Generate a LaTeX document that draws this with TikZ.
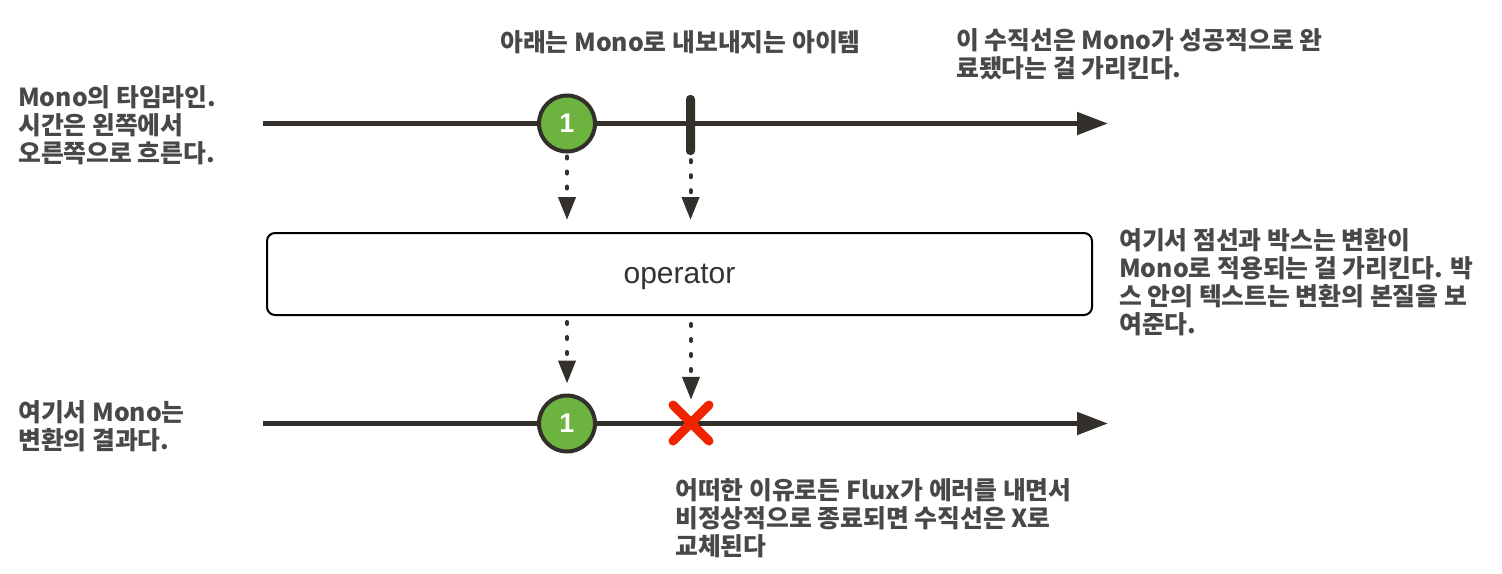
\documentclass[tikz,border=0pt]{standalone}
\usepackage{fontspec}
\newfontfamily\kr{Noto Sans CJK KR}
\setsansfont{Liberation Sans}
\usetikzlibrary{arrows.meta}
\definecolor{ink}{RGB}{51,47,43}
\definecolor{notegray}{RGB}{72,72,72}
\definecolor{itemgreen}{RGB}{109,179,63}
\definecolor{errred}{RGB}{240,36,0}
\begin{document}
\begin{tikzpicture}[x=1pt,y=-1pt,
  timeline/.style={draw=ink, line width=5pt, -{Triangle[length=31pt,width=22pt]}},
  item/.style={circle, draw=ink, line width=4pt, fill=itemgreen, minimum size=56pt, inner sep=0pt,
    text=white, font=\sffamily\bfseries\fontsize{27}{30}\selectfont},
  tickmark/.style={rectangle, fill=ink, minimum width=9pt, minimum height=60pt, inner sep=0pt, rounded corners=4pt},
  flow/.style={draw=ink, line width=4pt, line cap=round, dash pattern=on 2pt off 13pt,
    -{Triangle[length=23pt,width=17pt]}},
  opbox/.style={rectangle, draw=black, line width=2pt, rounded corners=8pt, minimum width=825pt,
    minimum height=82pt, fill=white, text=black!80, text depth=0pt, font=\sffamily\fontsize{30}{34}\selectfont},
  note/.style={font=\kr\bfseries\fontsize{24.8}{27.8}\selectfont, text=notegray, align=left, inner sep=0pt, anchor=west},
  errx/.style={draw=errred, line width=9pt, line cap=round}
]
\useasboundingbox (0,0) rectangle (1502,573);

% top timeline
\coordinate (t0) at (263,123.5);
\coordinate (t1) at (1108,123.5);
\draw[timeline] (t0) -- (t1);
\node[tickmark] (tick) at (690.5,125) {};
\node[item] (c1) at (567,123.5) {1};

% operator box
\node[opbox] (box) at (679.5,274) {operator};

% bottom timeline
\coordinate (b0) at (263,423.5);
\coordinate (b1) at (1108,423.5);
\draw[timeline] (b0) -- (b1);
\node[item] (c2) at (567,423.5) {1};
\node[minimum size=36pt, inner sep=0pt] (err) at (691,423) {};
\draw[errx] ([shift={(-18,-18)}]err.center) -- ([shift={(18,18)}]err.center);
\draw[errx] ([shift={(-18,18)}]err.center) -- ([shift={(18,-18)}]err.center);

% flows
\draw[flow] ([yshift=-3pt]c1.south) -- ([yshift=12pt]c1.south |- box.north);
\draw[flow] ([yshift=-5pt]tick.south) -- ([yshift=12pt]tick.south |- box.north);
\draw[flow] ([yshift=-6pt]box.south -| c2.north) -- ([yshift=10pt]c2.north);
\draw[flow] ([yshift=-8pt]box.south -| err.north) -- ([yshift=5pt]err.north);

% notes
\node[note] (n1) at (18,125) {Mono의 타임라인.\\시간은 왼쪽에서\\오른쪽으로 흐른다.};
\node[note] (n2) at (500,42) {아래는 Mono로 내보내지는 아이템};
\node[note] (n3) at (956,54) {이 수직선은 Mono가 성공적으로 완\\료됐다는 걸 가리킨다.};
\node[note] (n4) at (1119,282) {여기서 점선과 박스는 변환이\\Mono로 적용되는 걸 가리킨다. 박\\스 안의 텍스트는 변환의 본질을 보\\여준다.};
\node[note] (n5) at (18,426) {여기서 Mono는\\변환의 결과다.};
\node[note] (n6) at (675,518) {어떠한 이유로든 Flux가 에러를 내면서\\비정상적으로 종료되면 수직선은 X로\\교체된다};
\end{tikzpicture}
\end{document}
